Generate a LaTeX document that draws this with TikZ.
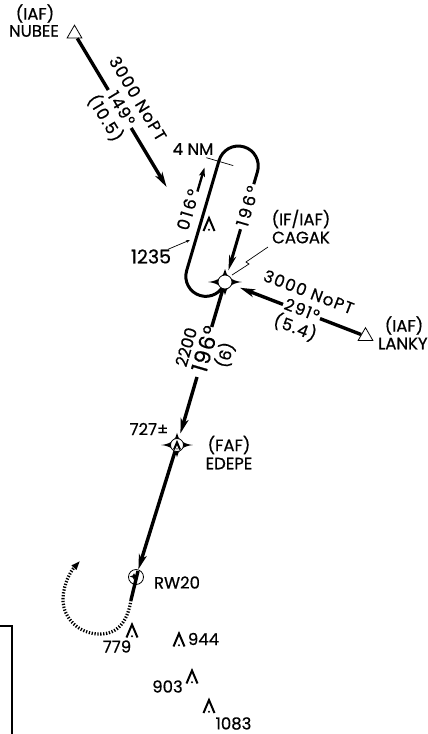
\documentclass[tikz,border=0pt]{standalone}
\usepackage{fontspec}
\setmainfont{Poppins}[FakeBold=0.6]
\usetikzlibrary{arrows.meta,shapes.geometric}

\tikzset{
  fixmark/.pic={
    \fill (-17,0) .. controls (-6,1.2) and (-1.2,6) .. (0,13)
      .. controls (1.2,6) and (6,1.2) .. (17,0)
      .. controls (6,-1.2) and (1.2,-6) .. (0,-13)
      .. controls (-1.2,-6) and (-6,-1.2) .. (-17,0) -- cycle;
  },
  obst/.pic={
    \draw[line width=2pt] (-5.5,-6.5) -- (0,6.5) -- (5.5,-6.5);
    \fill (0,-5.2) circle (1.2);
  },
}

\begin{document}
\begin{tikzpicture}[x=1pt,y=1pt,font=\fontsize{16.5}{18}\selectfont,
  course/.style={line width=3.4pt},
  crs/.style={course,-{Stealth[length=15pt,width=8pt,inset=4pt]}},
  hold/.style={line width=3pt},
  leader/.style={line width=0.7pt},
  lbl/.style={inner sep=0pt},
  stack/.style={lbl,align=center,font=\fontsize{16.5}{19}\selectfont\addfontfeatures{LetterSpace=8}},
  crslbl/.style={lbl,rotate=73.6,font=\fontsize{17}{19}\selectfont\addfontfeatures{LetterSpace=15}},
  iaf/.style={draw,regular polygon,regular polygon sides=3,minimum size=17pt,inner sep=0pt,line width=0.8pt},
  fixring/.style={circle,draw,fill=white,inner sep=0pt,line width=0.8pt}]
  \useasboundingbox (0,0) rectangle (428,-734);

  % fixes
  \coordinate (cagak) at (225,-282);
  \coordinate (edepe) at (177,-445);
  \coordinate (rw20) at (136,-577);
  \node[iaf] (nubee) at (74.5,-33.7) {};
  \node[iaf] (lanky) at (365.5,-336.2) {};

  % feeder from NUBEE
  \coordinate (nubee gap1) at (108.3,-90);
  \coordinate (nubee gap2) at (131.2,-128);
  \coordinate (nubee end) at (166.6,-187);
  \draw[course] (nubee) -- (nubee gap1);
  \draw[crs] (nubee gap2) -- (nubee end);
  \node[stack,rotate=-59] (nubee crs) at (120.5,-109) {3000 NoPT\\149°\\(10.5)};

  % feeder from LANKY
  \coordinate (lanky gap1) at (320,-318.6);
  \coordinate (lanky gap2) at (283,-304.4);
  \draw[course] (lanky) -- (lanky gap1);
  \draw[crs,shorten >=16pt] (lanky gap2) -- (cagak);
  \node[stack,rotate=-21] (lanky crs) at (301.5,-311) {3000 NoPT\\291°\\(5.4)};

  % holding at CAGAK
  \begin{scope}[shift={(cagak)},rotate=73.6]
    \coordinate (hold top) at (102,0);
    \coordinate (hold in) at (55,0);
    \draw[hold] (hold top) -- (115,0) arc[start angle=-90,end angle=90,radius=20]
      -- (0,40) arc[start angle=90,end angle=270,radius=20];
    \draw[hold,-{Stealth[length=15pt,width=7pt,inset=4pt]},shorten >=12pt] (hold in) -- (cagak);
    \draw[leader] (114,25) -- (114,53);
    \draw[line width=2.4pt,-{Stealth[length=9pt,width=6pt,inset=2pt]}] (79,52) -- (104,52);
    \node[crslbl] (hold out crs) at (59,56) {016°};
    \node[crslbl] (hold in crs) at (79,0) {196°};
  \end{scope}
  \node[lbl] (hold limit) at (193,-149) {4 NM};
  \pic at (209,-224.5) {obst};
  \node[lbl,font=\fontsize{19}{21}\selectfont] (hold elev) at (151,-256.5) {1235};
  \coordinate (hold elev tip) at (190,-240);
  \draw[leader,-{Stealth[length=4pt,width=3pt]}] (hold elev) -- (hold elev tip);

  % final approach
  \coordinate (app gap1) at (211.7,-327);
  \coordinate (app gap2) at (197,-377);
  \draw[course] (cagak) -- (app gap1);
  \draw[crs,shorten >=12pt] (app gap2) -- (edepe);
  \draw[crs,shorten >=8pt] (edepe) -- (rw20);
  \node[lbl,rotate=73.6] (app alt) at (186,-347) {2200};
  \node[lbl,rotate=73.6,font=\fontsize{22}{24}\selectfont\addfontfeatures{LetterSpace=5}] (app crs) at (205,-349) {196°};
  \node[lbl,rotate=73.6] (app dist) at (225,-355) {(6)};

  % fix symbols
  \pic at (cagak) {fixmark};
  \node[fixring,minimum size=14pt] (cagak ring) at (cagak) {};
  \pic[scale=0.93] at (edepe) {fixmark};
  \node[fixring,minimum size=13pt] (edepe ring) at (edepe) {};
  \pic[scale=0.55] at (177,-446) {obst};
  \node[fixring,minimum size=15pt] (rw20 ring) at (rw20) {};
  \pic[scale=0.25] at (134,-576.5) {fixmark};

  % missed approach
  \coordinate (rwy a) at (138,-571);
  \coordinate (rwy b) at (131,-600);
  \coordinate (miss end) at (80,-561);
  \draw[course] (rwy a) -- (rwy b);
  \draw[line width=3.2pt,dash pattern=on 1.3pt off 1.6pt,-{Triangle[length=9pt,width=6pt]}]
    (rwy b) .. controls (127,-625) and (115,-635) .. (97,-634)
    .. controls (75,-632) and (62,-615) .. (63,-597)
    .. controls (64,-584) and (70,-572) .. (miss end);

  % labels
  \node[lbl] (nubee lbl) at (35,-13.5) {(IAF)};
  \node[lbl] (nubee name) at (34,-31) {NUBEE};
  \node[lbl] (lanky lbl) at (404,-325.5) {(IAF)};
  \node[lbl,anchor=west] (lanky name) at (378,-343.5) {LANKY};
  \node[lbl] (cagak lbl) at (301,-219) {(IF/IAF)};
  \node[lbl] (cagak name) at (301,-237.5) {CAGAK};
  \coordinate (cagak lead) at (268,-247);
  \draw[leader] (232,-275) -- (249,-264) -- (246,-262) -- (cagak lead);
  \node[lbl] (edepe lbl) at (229,-445) {(FAF)};
  \node[lbl] (edepe name) at (229,-463.5) {EDEPE};
  \node[lbl] (edepe elev) at (149,-429) {727±};
  \node[lbl] (rw20 name) at (177,-582.5) {RW20};

  % obstacles
  \pic at (132,-631) {obst};
  \node[lbl] (ob779) at (117,-646.5) {779};
  \pic at (179,-640) {obst};
  \node[lbl] (ob944) at (203.5,-639) {944};
  \pic at (192,-677) {obst};
  \node[lbl] (ob903) at (167.5,-686.5) {903};
  \pic at (209,-706.5) {obst};
  \node[lbl] (ob1083) at (233.5,-723.5) {1083};

  \draw[line width=1.5pt] (0,-626) -- (12,-626) -- (12,-734);
\end{tikzpicture}
\end{document}
